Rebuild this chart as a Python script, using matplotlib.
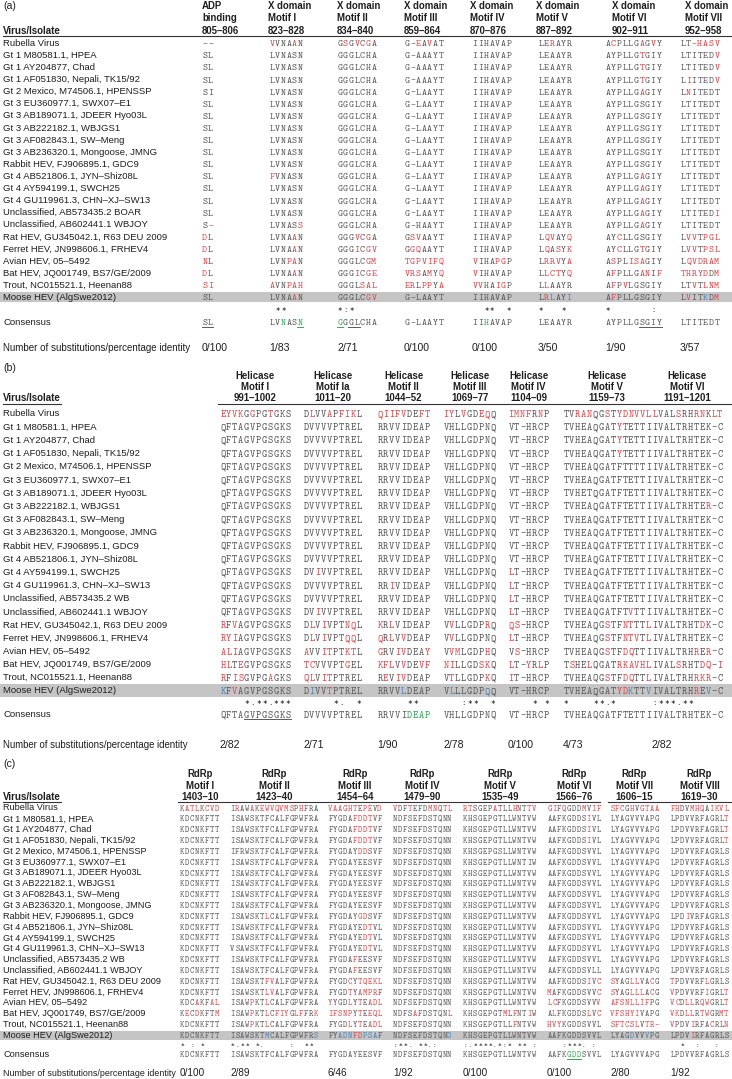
import matplotlib
matplotlib.use("Agg")
import matplotlib.pyplot as plt
from matplotlib.patches import Rectangle

# ---------------- data ----------------
isolates = [
    "Rubella Virus",
    "Gt 1 M80581.1, HPEA",
    "Gt 1 AY204877, Chad",
    "Gt 1 AF051830, Nepali, TK15/92",
    "Gt 2 Mexico, M74506.1, HPENSSP",
    "Gt 3 EU360977.1, SWX07\u2013E1",
    "Gt 3 AB189071.1, JDEER Hyo03L",
    "Gt 3 AB222182.1, WBJGS1",
    "Gt 3 AF082843.1, SW\u2013Meng",
    "Gt 3 AB236320.1, Mongoose, JMNG",
    "Rabbit HEV, FJ906895.1, GDC9",
    "Gt 4 AB521806.1, JYN\u2013Shiz08L",
    "Gt 4 AY594199.1, SWCH25",
    "Gt 4 GU119961.3, CHN\u2013XJ\u2013SW13",
    "Unclassified, AB573435.2 WB",
    "Unclassified, AB602441.1 WBJOY",
    "Rat HEV, GU345042.1, R63 DEU 2009",
    "Ferret HEV, JN998606.1, FRHEV4",
    "Avian HEV, 05\u20135492",
    "Bat HEV, JQ001749, BS7/GE/2009",
    "Trout, NC015521.1, Heenan88",
    "Moose HEV (AlgSwe2012)",
]
isolates_a = isolates[:14] + ["Unclassified, AB573435.2 BOAR"] + isolates[15:]

# panel (a): ADP binding and X domain
a_headers = ["ADP\nbinding\n805\u2013806", "X domain\nMotif I\n823\u2013828",
             "X domain\nMotif II\n834\u2013840", "X domain\nMotif III\n859\u2013864",
             "X domain\nMotif IV\n870\u2013876", "X domain\nMotif V\n887\u2013892",
             "X domain\nMotif VI\n902\u2013911", "X domain\nMotif VII\n952\u2013958"]
a_adp = ["--", "SL", "SL", "SL", "SI", "SL", "SL", "SL", "SL", "SL", "SL",
         "SL", "SL", "SL", "SL", "S-", "DL", "DL", "NL", "DL", "SI", "SL"]
a_x1 = ["VVNAAN", "LVNASN", "LVNASN", "LVNASN", "LVNASN", "LVNASN", "LVNASN", "LVNASN", "LVNASN", "LVNASN", "LVNASN",
        "FVNASN", "LVNASN", "LVNASN", "LVNASN", "LVNASS", "LVNAAN", "LVNAAN", "LVNPAN", "LVNAAN", "AVNPAH", "LVNAAN"]
a_x2 = ["GSGVCGA", "GGGLCHA", "GGGLCHA", "GGGLCHA", "GGGLCHA", "GGGLCHA", "GGGLCHA", "GGGLCHA", "GGGLCHA", "GGGLCHA", "GGGLCHA",
        "GGGLCHA", "GGGLCHA", "GGGLCHA", "GGGLCHA", "GGGLCHA", "GGGVCGA", "GGGICGV", "GGGLCGM", "GGGICGE", "GGGLSAL", "GGGLCGV"]
a_x3 = ["G-EAVAT", "G-AAAYT", "G-AAAYT", "G-AAAYT", "G-LAAYT", "G-LAAYT", "G-LAAYT", "G-LAAYT", "G-LAAYT", "G-LAAYT", "G-LAAYT",
        "G-LAAYT", "G-LAAYT", "G-LAAYT", "G-LAAYT", "G-HAAYT", "GSVAAYT", "GGQAAYT", "TGPVIFQ", "VRSAMYQ", "ERLPPYA", "G-LAAYT"]
a_x4 = ["IIHAVAP", "IIHAVAP", "IIHAVAP", "IIHAVAP", "IIHAVAP", "IIHAVAP", "IIHAVAP", "IIHAVAP", "IIHAVAP", "IIHAVAP", "IIHAVAP",
        "IIHAVAP", "IIHAVAP", "IIHAVAP", "IIHAVAP", "IIHAVAP", "IIHAVAP", "IIHAVAP", "VIHAPGP", "VIHAVAP", "VVHAIGP", "IIHAVAP"]
a_x5 = ["LERAYR", "LEAAYR", "LEAAYR", "LEAAYR", "LEAAYR", "LEAAYR", "LEAAYR", "LEAAYR", "LEAAYR", "LEAAYR", "LEAAYR",
        "LEAAYR", "LEAAYR", "LEAAYR", "LEAAYR", "LEAAYR", "LQVAYQ", "LQASYK", "LRRVYA", "LLCTYQ", "LLAAYR", "LRLAYI"]
a_x6 = ["ACPLLGAGVY", "AYPLLGTGIY", "AYPLLGTGIY", "AYPLLGTGIY", "AYPLLGAGIY", "AYPLLGSGIY", "AYPLLGSGIY", "AYPLLGSGIY",
        "AYPLLGSGIY", "AYPLLGSGIY", "AYPLLGSGIY", "AYPLLGAGIY", "AYPLLGAGIY", "AYPLLGAGIY", "AYPLLGAGIY", "AYPLLGAGIY",
        "AYCLLGSGIY", "AYCLLGTGIY", "ASPLISAGIY", "AFPLLGANIF", "AFPVLGSGIY", "AFPLLGSGIY"]
a_x7 = ["LT-HASV", "LTITEDV", "LTITEDV", "LIITEDV", "LNITEDT", "LTITEDT", "LTITEDT", "LTITEDT", "LTITEDT", "LTITEDT", "LTITEDT",
        "LTITEDT", "LTITEDT", "LTITEDT", "LTITEDI", "LTITEDT", "LVVTPGL", "LVVTPSL", "LQVDRAM", "THRYDDM", "LTVTLNM", "LVITKDM"]
a_consensus = ["SL", "LVNASN", "GGGLCHA", "G-LAAYT", "IIHAVAP", "LEAAYR", "AYPLLGSGIY", "LTITEDT"]
a_conserved = ["", " **   ", "*:*    ", "", "  **  *", "*   * ", "*       : ", ""]
a_identity = ["0/100", "1/83", "2/71", "0/100", "0/100", "3/50", "1/90", "3/57"]
# residues that are coloured differently from the default "differs from consensus" rule
# r = substitution, b = substitution unique to moose HEV, . = none
a_marks = {(0, 0): "..", (4, 0): "..", (20, 0): "rr", (0, 3): "..r.r..",
           (1, 3): "", (2, 3): "", (3, 3): "", (15, 3): "",
           (21, 5): ".rb..b", (21, 7): ".r..b.r"}
# consensus: g = green, u = underlined, x = both
a_cons_marks = {0: "uu", 1: "..g..x", 2: "x.uu...", 4: "..g....", 6: "......uuuu"}

# panel (b): helicase
b_headers = ["Helicase\nMotif I\n991\u20131002", "Helicase\nMotif Ia\n1011\u201320",
             "Helicase\nMotif II\n1044\u201352", "Helicase\nMotif III\n1069\u201377",
             "Helicase\nMotif IV\n1104\u201309", "Helicase\nMotif V\n1159\u201373",
             "Helicase\nMotif VI\n1191\u20131201"]
b_h1 = ["EYVKGGPGTGKS", "QFTAGVPGSGKS", "QFTAGVPGSGKS", "QFTAGVPGSGKS", "QFTAGVPGSGKS", "QFTAGVPGSGKS",
        "QFTAGVPGSGKS", "QFTAGVPGSGKS", "QFTAGVPGSGKS", "QFTAGVPGSGKS", "QFTAGVPGSGKS", "QFTAGVPGSGKS",
        "QFTAGVPGSGKS", "QFTAGVPGSGKS", "QFTAGVPGSGKS", "QFTAGVPGSGKS", "RFVAGVPGSGKS", "RYIAGVPGSGKS",
        "ALIAGVPGSGKS", "HLTEGVPGSGKS", "RFISGVPGAGKS", "KFVAGVPGSGKS"]
b_h1a = ["DLVVAPFIKL", "DVVVVPTREL", "DVVVVPTREL", "DVVVVPTREL", "DVVVVPTREL", "DVVVVPTREL", "DVVVVPTREL",
         "DVVVVPTREL", "DVVVVPTREL", "DVVVVPTREL", "DVVVVPTREL", "DVVVVPTREL", "DVIVVPTREL", "DVVVVPTREL",
         "DVVVVPTREL", "DVIVVPTREL", "DLVIVPTNQL", "DLVIVPTQQL", "AVVITPTKTL", "TCVVVPTGEL", "QLVITPTREL",
         "DIVVTPTREL"]
b_h2 = ["QIIFVDEFT", "RRVVIDEAP", "RRVVIDEAP", "RRVVIDEAP", "RRVVIDEAP", "RRVVIDEAP", "RRVVIDEAP", "RRVVIDEAP",
        "RRVVIDEAP", "RRVVIDEAP", "RRVVIDEAP", "RRVVIDEAP", "RRVVIDEAP", "RRIVIDEAP", "RRVVIDEAP", "RRVVIDEAP",
        "KRLVIDEAP", "QRLVVDEAP", "GRVIVDEAY", "KFLVVDEVF", "REVIVDEAP", "RRVVLDEAP"]
b_h3 = ["IYLVGDEQQ", "VHLLGDPNQ", "VHLLGDPNQ", "VHLLGDPNQ", "VHLLGDPNQ", "VHLLGDPNQ", "VHLLGDPNQ", "VHLLGDPNQ",
        "VHLLGDPNQ", "VHLLGDPNQ", "VHLLGDPNQ", "VHLLGDPNQ", "VHLLGDPNQ", "VHLLGDPNQ", "VHLLGDPNQ", "VHLLGDPNQ",
        "VVLLGDPRQ", "VVLLGDPNQ", "VVMLGDPHQ", "NILLGDSKQ", "VTLLGDPKQ", "VLLLGDPQQ"]
b_h4 = ["IMNFRNP", "VT-HRCP", "VT-HRCP", "VT-HRCP", "VT-HRCP", "VT-HRCP", "VT-HRCP", "VT-HRCP", "VT-HRCP",
        "VT-HRCP", "VT-HRCP", "VT-HRCP", "LT-HRCP", "LT-HRCP", "LT-HRCP", "LT-HRCP", "QS-HRCP", "LT-HRCP",
        "VS-HRCP", "LT-YRLP", "IT-HRCP", "VT-HRCP"]
b_h5 = ["TVRANQGSTYDNVVL", "TVHEAQGATYTETTI", "TVHEAQGATYTETTI", "TVHEAQGATYTETTI", "TVHEAQGATFTTTTI",
        "TVHEAQGATFTETTI", "TVHETQGATFTETTI", "TVHEAQGATFTETTI", "TVHEAQGATFTETTI", "TVHEAQGATFTETTI",
        "TVHEAQGATFTETTI", "TVHEAQGATFTETTI", "TVHEAQGATFTETTI", "TVHEAQGATFTETTI", "TVHEAQGATFTETTI",
        "TVHEAQGATFTVTTI", "TVHEAQGSTFNTTTL", "TVHEAQGSTFNTVTL", "TVHEAQGSTFDQTTI", "TSHELQGATRKAVHL",
        "TVHEAQGSTFDQTTL", "TVHEAQGATYDKTTV"]
b_h6 = ["LVALSRHRNKLT", "IVALTRHTEK-C", "IVALTRHTEK-C", "IVALTRHTEK-C", "IVALTRHTEK-C", "IVALTRHTEK-C",
        "IVALTRHTEK-C", "IVALTRHTER-C", "IVALTRHTEK-C", "IVALTRHTEK-C", "IVALTRHTEK-C", "IVALTRHTEK-C",
        "IVALTRHTEK-C", "IVALTRHTEK-C", "IVALTRHTEK-C", "IVALTRHTEK-C", "IVALTRHTDK-C", "IVALTRHTEK-C",
        "IVALTRHRER-C", "IVALSRHTDQ-I", "IVALTRHRKR-C", "IVALTRHREV-C"]
b_consensus = ["QFTAGVPGSGKS", "DVVVVPTREL", "RRVVIDEAP", "VHLLGDPNQ", "VT-HRCP", "TVHEAQGATFTETTI", "IVALTRHTEK-C"]
b_conserved = ["    *.**.***", "     *.  *", "     **  ", "   :**  *", "    * *", "*    **.*      ", ":***.**     "]
b_identity = ["2/82", "2/71", "1/90", "2/78", "0/100", "4/73", "2/82"]
b_marks = {(4, 5): "", (6, 5): "",
           (21, 0): "b.r.........", (21, 1): ".b..r.....", (21, 2): "....b....",
           (21, 3): ".b.....b.", (21, 5): ".........rrb..b", (21, 6): ".......r.b.."}
b_cons_marks = {0: "....uuuuuuuu", 2: ".....gggg"}

# panel (c): RdRp
c_headers = ["RdRp\nMotif I\n1403\u201310", "RdRp\nMotif II\n1423\u201340", "RdRp\nMotif III\n1454\u201364",
             "RdRp\nMotif IV\n1479\u201390", "RdRp\nMotif V\n1535\u201349", "RdRp\nMotif VI\n1566\u201376",
             "RdRp\nMotif VII\n1606\u201315", "RdRp\nMotif VIII\n1619\u201330"]
c_r1 = ["KATLKCVD", "KDCNKFTT", "KDCNKFTT", "KDCNKFTT", "KDCNKFTT", "KDCNKFTT", "KDCNKFTT", "KDCNKFTT",
        "KDCNKFTT", "KDCNKFTT", "KDCNKFTT", "KDCNKFTT", "KDCNKFTT", "KDCNKFTT", "KDCNKFTT", "KDCNKFTT",
        "KDCNKFTT", "KDCNKFTT", "KDCAKFAL", "KECDKFTM", "KDCNKFTT", "KDCNKFTT"]
c_r2 = ["IRAWAKEWVQVMSPHFRA", "ISAWSKTFCALFGPWFRA", "ISAWSKTFCALFGPWFRA", "ISAWSKTFCALFGPWFRA",
        "IFRWSKTFCALFGPWFRA", "ISAWSKTFCALFGPWFRA", "ISAWSKTFCALFGPWFRA", "ISAWSKTFCALFGPWFRA",
        "ISAWSKTFCALFGPWFRA", "ISAWSKTFCALFGPWFRA", "ISAWSKTLCALFGPWFRA", "ISAWSKTFCALFGPWFRA",
        "ISAWSKTFCALFGPWFRA", "VSAWSKTFCALFGPWFRA", "ISAWSKTFCALFGPWFRA", "ISAWSKTFCALFGPWFRA",
        "ISAWSKTFVALFGPWFRA", "ISAWSKTLVALFGPWFRA", "ISAWPKTLCALFGPWFRA", "ISAWPKTLCFIYGLFFRK",
        "ISAWPKTLCALFGPWFRA", "ISAWSKTMCALFGPWFRS"]
c_r3 = ["VAAGHTEPEVD", "FYGDAFDDTVF", "FYGDAFDDTVF", "FYGDAFDDTVF", "FYGDAYDDSVF", "FYGDAYEESVF",
        "FYGDAYEESVF", "FYGDAYEESVF", "FYGDAYEESVF", "FYGDAYEESVF", "FYGDAYGDSVF", "FYGDAYEDTVL",
        "FYGDAYEDTVL", "FYGDAYEDTVL", "FYGDAFEESVF", "FYGDAFEESVF", "FYGDCYTQEKL", "FYGDTYAMPRF",
        "YYGDLYTEADL", "IFSNPYTEEQL", "FYGDLYTEADL", "FYADNFDPSAF"]
c_r4 = ["VDFTEFDMNQTL", "NDFSEFDSTQNN", "NDFSEFDSTQNN", "NDFSEFDSTQNN", "NDFSEFDSTQNN", "NDFSEFDSTQNN",
        "NDFSEFDSTQNN", "NDFSEFDSTQNN", "NDFSEFDSTQNN", "NDFSEFDSTQNN", "NDFSEFDSTQNN", "NDFSEFDSTQNN",
        "NDFSEFDSTQNN", "NDFSEFDSTQNN", "NDFSEFDSTQNN", "NDFSEFDSTQNN", "NDFSEFDSTQNN", "NDFSEFDSTQNN",
        "NDFSEFDSTQNN", "NDFSAFDSTQNL", "NDFSEFDSTQNN", "NDFSEFDSTQND"]
c_r5 = ["RTSGEPATLLHNTTV", "KHSGEPGTLLWNTVW", "KHSGEPGTLLWNTVW", "KHSGEPGTLLWNTVW", "KHSGEPGSLLWNTVW",
        "KHSGEPGTLLWNTIW", "KHSGEPGTLLWNTVW", "KHSGEPGTLLWNTVW", "KHSGEPGTLLWNTVW", "KHSGEPGTLLWNTVW",
        "KHSGEPGTLLWNTVW", "KHSGEPGTLLWNTVW", "KHSGEPGTLLWNTVW", "KHSGEPGTLLWNTVW", "KHSGEPGTLLWNTVW",
        "KHSGEPGTLLWNTVW", "KHSGEPGTLLWNTVW", "KHSGEPGTLLWNTVW", "KHSGEPGTLLWNTVW", "KHSGEPGTMLFNTIW",
        "KHSGEPGTLLFNTVW", "KHSGEPGTLLWNTVW"]
c_r6 = ["GIFQGDDMVIF", "AAFKGDDSIVL", "AAFKGDDSIVL", "AAFKGDDSIVL", "AAFKGDDSVVL", "AAFKGDDSVVL",
        "AAFKGDDSVVL", "AAFKGDDSVVL", "AAFKGDDSVVL", "AAFKGDDSVVL", "AAFKGDDSVVL", "AAFKGDDSVVL",
        "AAFKGDDSVVL", "AAFKGDDSVVL", "AAFKGDDSVVL", "AAFKGDDSVLL", "AAFKGDDSIVC", "MAFKGDDSVVC",
        "LCFKGDDSVVV", "ALFKGDDSLVC", "HVYKGDDSVVL", "AAFKGDDSVVL"]
c_r7 = ["SFCGHVGTAA", "LYAGVVVAPG", "LYAGVVVAPG", "LYAGVVVAPG", "LYAGVVVAPG", "LYAGVVVAPG", "LYAGVVVAPG",
        "LYAGVVVAPG", "LYAGVVVAPG", "LYAGVVVAPG", "LYAGVVVAPG", "LYAGVVVAPG", "LYAGVVVAPG", "LYAGVVVAPG",
        "LYAGVVVAPG", "LYAGVVVAPG", "SYAGLLVACG", "SYAGLLLACG", "AFSNLLIFPG", "VFSHYIVAPG", "SFTCSLVTR-",
        "LYAGDVVVPG"]
c_r8 = ["FHDVMHQAIKVL", "LPDVVRFAGRLT", "LPDVVRFAGRLT", "LPDVVRFAGRLT", "LPDVVRFAGRLS", "LPDVVRFAGRLS",
        "LPDVVRFAGRLS", "LPDVVRFAGRLS", "LPDVVRFAGRLS", "LPDVVRFAGRLS", "LPDIVRFAGRLS", "LPDVVRFAGRLS",
        "LPDVVRFAGRLS", "LPDVVRFAGRLS", "LPDVVRFAGRLS", "LPDVVRFAGRLS", "TPDVVRFLGRLS", "VPDVVRFIGRLT",
        "VCDLLRQWGRLT", "VKDLLRTWGRMT", "VPDVIRFACRLN", "LPDVIRFAGRLS"]
c_consensus = ["KDCNKFTT", "ISAWSKTFCALFGPWFRA", "FYGDAYEESVF", "NDFSEFDSTQNN", "KHSGEPGTLLWNTVW",
               "AAFKGDDSVVL", "LYAGVVVAPG", "LPDVVRFAGRLS"]
c_conserved = ["* : *   ", "*.** *.     :  ** ", "", ":**. **.:   ", ":.****.*:* ** :", "   :***. : ", "",
               "  *  :   :  "]
c_identity = ["0/100", "2/89", "6/46", "1/92", "0/100", "0/100", "2/80", "1/92"]
c_marks = {(4, 1): "", (13, 1): "", (16, 1): ".......rr.........",
           (11, 2): ".......rr..", (12, 2): ".......rr..", (13, 2): ".......rr..",
           (4, 4): "", (5, 4): "", (15, 5): "",
           (21, 1): ".......b.........b", (21, 2): "..bbbrrbbb.", (21, 3): "...........b",
           (21, 6): "....b..b.."}
c_cons_marks = {5: "....xxx...."}

# ---------------- drawing ----------------
MONO = "cmtt10"
SANS = "Liberation Sans"
GREY = "#5a5a5a"
INK = "#1e1e1e"
COLOURS = {"r": "#e2474b", "b": "#4a86bd", "g": "#35a85a", "x": "#35a85a"}

fig = plt.figure(figsize=(7.32, 10.79), dpi=100)
ax = fig.add_axes([0, 0, 1, 1])
ax.set_xlim(0, 732)
ax.set_ylim(1079, 0)
ax.axis("off")


def default_marks(seq, ref):
    return "".join("r" if k >= len(ref) or c != ref[k] else "." for k, c in enumerate(seq))


def put_residues(x0, yb, seq, marks, cw, fs, under=False):
    for k, ch in enumerate(seq):
        m = marks[k] if k < len(marks) else "."
        col = COLOURS.get(m, GREY)
        ax.text(x0 + (k + 0.5) * cw, yb, ch, family=MONO, fontsize=fs, color=col,
                ha="center", va="baseline")
        if m in "ux" and m != ".":
            ax.plot([x0 + k * cw, x0 + (k + 1) * cw], [yb + 1.6, yb + 1.6], color=col, lw=0.7)


def draw_panel(tag, names, headers, columns, consensus, conserved, identity, marks, cons_marks, L):
    cw, fs = L["cw"], L["fs"]
    base = 0.31 * fs * 100 / 72
    ax.text(3, L["tag_y"], tag, family=SANS, fontsize=7.6, color=INK, va="center")
    ax.text(3, L["head_y"][2], "Virus/Isolate", family=SANS, fontsize=7, weight="bold", color=INK, va="center")
    for x1, x2 in L["rules"]:
        ax.plot([x1, x2], [L["rule_y"], L["rule_y"]], color="#333333", lw=0.8)

    for j, head in enumerate(headers):
        width = len(consensus[j]) * cw
        if L["head_align"] == "left":
            hx, ha = L["hx"][j], "left"
        else:
            hx, ha = L["x"][j] + width / 2, "center"
        for line, hy in zip(head.split("\n"), L["head_y"]):
            ax.text(hx, hy, line, family=SANS, fontsize=6.9, weight="bold", color=INK, ha=ha, va="center")

    n = len(names)
    ys = [L["row0"] + i * L["pitch"] for i in range(n)]
    ax.add_patch(Rectangle((0, ys[-1] - L["band"] / 2), 732, L["band"], color="#c5c5c5", lw=0, zorder=0))
    for i, name in enumerate(names):
        ax.text(3, ys[i], name, family=SANS, fontsize=L["name_fs"], color=INK, va="center")
        for j, col in enumerate(columns):
            seq = col[i]
            mk = marks.get((i, j), default_marks(seq, consensus[j]))
            put_residues(L["x"][j], ys[i] + base, seq, mk, cw, fs)

    for j, sym in enumerate(conserved):
        for k, ch in enumerate(sym):
            if ch != " ":
                ax.text(L["x"][j] + (k + 0.5) * cw, L["sym_y"] + 2.2, ch, family=MONO,
                        fontsize=fs * 0.85, color="#333333", ha="center", va="baseline")

    ax.text(3, L["cons_y"], "Consensus", family=SANS, fontsize=L["name_fs"], color=INK, va="center")
    for j, seq in enumerate(consensus):
        put_residues(L["x"][j], L["cons_y"] + base, seq, cons_marks.get(j, ""), cw, fs)

    ax.text(3, L["id_y"], "Number of substitutions/percentage identity", family=SANS,
            fontsize=L["id_fs"], color=INK, va="center")
    for j, val in enumerate(identity):
        ax.text(L["x"][j], L["id_y"], val, family=SANS, fontsize=L["val_fs"], color=INK, va="center")


layout_a = dict(cw=5.67, fs=6.9, tag_y=6, head_y=[6, 18, 30.5], rule_y=35.5, rules=[(3, 732)],
                head_align="left", hx=[202, 268, 337, 404, 470, 536, 612, 685],
                x=[202, 269, 337, 404, 472, 538, 605, 680], row0=43.3, pitch=12.1, band=10,
                sym_y=310, cons_y=322.3, id_y=347.7, name_fs=6.8, id_fs=7.0, val_fs=7.6)
layout_b = dict(cw=5.9, fs=7.2, tag_y=368, head_y=[376, 387.3, 398.3], rule_y=403.5,
                rules=[(3, 61), (218, 732)], head_align="center",
                x=[220, 303, 377, 443, 508, 563, 652], row0=414, pitch=13.19, band=13,
                sym_y=703, cons_y=714.7, id_y=744.7, name_fs=6.8, id_fs=6.9, val_fs=7.6)
layout_c = dict(cw=4.91, fs=6.0, tag_y=764, head_y=[774, 786.3, 797.3], rule_y=801.5,
                rules=[(3, 61), (178, 600), (608, 732)], head_align="center",
                x=[180, 230, 328, 393, 463, 547, 610, 670], row0=808, pitch=10.82, band=9,
                sym_y=1044.7, cons_y=1054.7, id_y=1073, name_fs=6.6, id_fs=6.4, val_fs=7.2)

draw_panel("(a)", isolates_a, a_headers, [a_adp, a_x1, a_x2, a_x3, a_x4, a_x5, a_x6, a_x7],
           a_consensus, a_conserved, a_identity, a_marks, a_cons_marks, layout_a)
draw_panel("(b)", isolates, b_headers, [b_h1, b_h1a, b_h2, b_h3, b_h4, b_h5, b_h6],
           b_consensus, b_conserved, b_identity, b_marks, b_cons_marks, layout_b)
draw_panel("(c)", isolates, c_headers, [c_r1, c_r2, c_r3, c_r4, c_r5, c_r6, c_r7, c_r8],
           c_consensus, c_conserved, c_identity, c_marks, c_cons_marks, layout_c)

fig.savefig("out.png", dpi=100)
